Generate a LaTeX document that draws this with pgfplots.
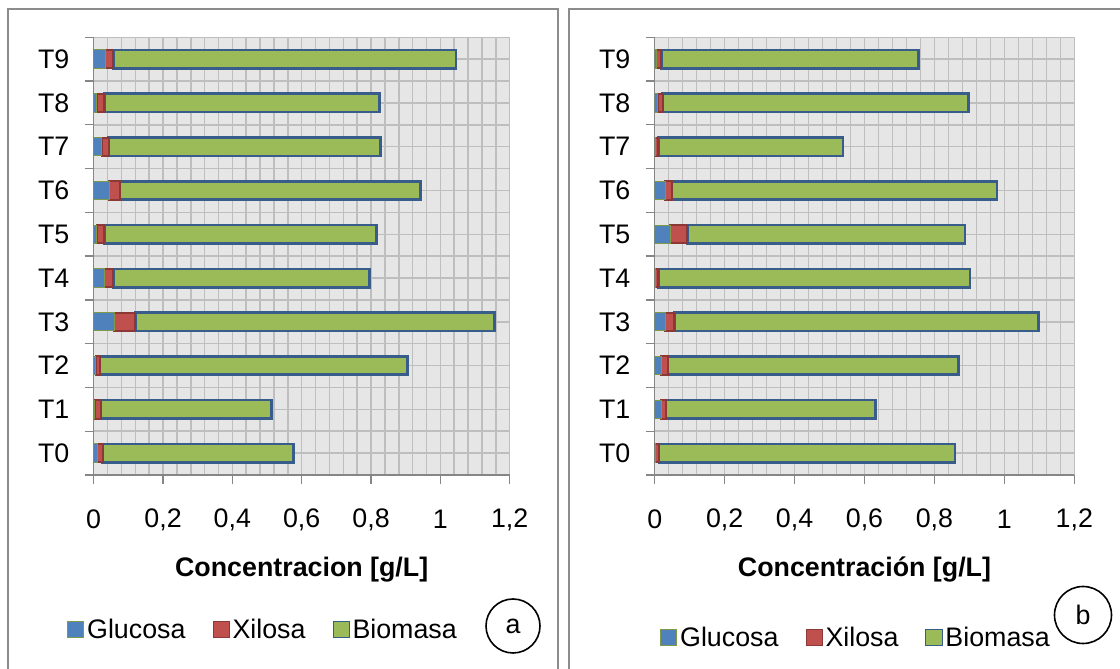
\documentclass[border=0pt]{standalone}
\usepackage{fontspec}
\setmainfont{Liberation Sans}
\usepackage{pgfplots}
\usepackage{pgfplotstable}
\pgfplotsset{compat=1.18}
\definecolor{cBlue}{HTML}{4F81BD}
\definecolor{cRed}{HTML}{C0504D}
\definecolor{cGreen}{HTML}{9BBB59}
\definecolor{cBlueEdge}{HTML}{385D8A}
\definecolor{cRedEdge}{HTML}{8C3836}
\definecolor{cGreenEdge}{HTML}{7E9A48}
\definecolor{gridc}{HTML}{BEBEBE}
\definecolor{bgc}{HTML}{E6E6E6}
\definecolor{axc}{HTML}{868686}
\definecolor{framec}{HTML}{8C8C8C}
\newcommand{\fs}{\fontsize{26.8}{31}\selectfont}

\pgfplotstableread{
cat G X B
0 0.010 0.016 0.550
1 0.003 0.017 0.493
2 0.006 0.012 0.888
3 0.059 0.061 1.037
4 0.030 0.027 0.738
5 0.009 0.022 0.785
6 0.045 0.031 0.866
7 0.023 0.020 0.785
8 0.009 0.022 0.793
9 0.033 0.024 0.988
}\dataA
\pgfplotstableread{
cat G X B
0 0.002 0.010 0.847
1 0.019 0.013 0.599
2 0.019 0.019 0.831
3 0.030 0.026 1.042
4 0.002 0.008 0.892
5 0.044 0.049 0.794
6 0.030 0.019 0.930
7 0.002 0.008 0.528
8 0.008 0.015 0.875
9 0.005 0.014 0.736
}\dataB

\pgfplotsset{
  sq/.style={legend image code/.code={\draw[##1, line width=1pt] (0pt,-8pt) rectangle (16pt,8pt);}},
  panel/.style={
    scale only axis, height=437.7pt,
    xbar stacked, bar width=0.42,
    xmin=0, xmax=1.2, ymin=-0.5, ymax=9.5,
    xtick={0,0.2,0.4,0.6,0.8,1,1.2}, minor x tick num=4,
    ytick={-0.5,0.5,1.5,2.5,3.5,4.5,5.5,6.5,7.5,8.5,9.5}, yticklabels={},
    extra y ticks={0,1,2,3,4,5,6,7,8,9},
    extra y tick labels={T0,T1,T2,T3,T4,T5,T6,T7,T8,T9},
    extra y tick style={major tick length=0pt, grid=major},
    xmajorgrids, xminorgrids, ymajorgrids,
    major grid style={gridc, line width=1.5pt},
    minor grid style={gridc, line width=1.5pt},
    axis background/.style={fill=bgc},
    axis lines*=left, axis line style={axc, line width=1.3pt},
    tick align=outside, major tick length=9pt, minor tick length=0pt,
    tick style={axc, line width=1.3pt},
    xticklabel style={font=\fs, anchor=center, yshift=-35.7pt},
    yticklabel style={font=\fs, anchor=center, xshift=-40pt},
    /pgf/number format/.cd, use comma, assume math mode=true, /pgfplots/.cd,
    xlabel style={font=\fs\bfseries, at={(axis description cs:0.5,-0.2160)}, anchor=center},
    legend style={draw=none, fill=none, font=\fs, legend columns=3,
      inner sep=0pt, nodes={inner xsep=3pt, inner ysep=0pt},
      /tikz/every even column/.append style={column sep=24pt}},
    legend cell align=left,
  },
}

\begin{document}
\begin{tikzpicture}
\useasboundingbox (0,0) rectangle (1120pt,669pt);
\clip (0,0) rectangle (1120pt,669pt);
\draw[framec, line width=2pt] (7.5pt,-20pt) -- (7.5pt,659.5pt) -- (558pt,659.5pt) -- (558pt,-20pt);
\draw[framec, line width=2pt] (569pt,-20pt) -- (569pt,659.5pt) -- (1140pt,659.5pt);

\begin{axis}[panel, width=416pt, at={(93.7pt,194pt)}, anchor=south west,
  xlabel={Concentracion [g/L]},
  legend style={at={(axis description cs:-0.0642,-0.3541)}, anchor=west}]
\addplot[fill=cBlue, draw=cGreenEdge, line width=1pt, sq] table[x=G, y=cat] {\dataA};
\addplot[fill=cRed, draw=cRedEdge, line width=2pt, sq] table[x=X, y=cat] {\dataA};
\addplot[fill=cGreen, draw=cBlueEdge, line width=2.6pt, sq] table[x=B, y=cat] {\dataA};
\legend{Glucosa, Xilosa, Biomasa}
\end{axis}

\begin{axis}[panel, width=419.6pt, at={(654.7pt,194pt)}, anchor=south west,
  xlabel={Concentración [g/L]},
  legend style={at={(axis description cs:0.0126,-0.3713)}, anchor=west}]
\addplot[fill=cBlue, draw=cGreenEdge, line width=1pt, sq] table[x=G, y=cat] {\dataB};
\addplot[fill=cRed, draw=cRedEdge, line width=2pt, sq] table[x=X, y=cat] {\dataB};
\addplot[fill=cGreen, draw=cBlueEdge, line width=2.6pt, sq] table[x=B, y=cat] {\dataB};
\legend{Glucosa, Xilosa, Biomasa}
\end{axis}

\draw[black, line width=1.6pt] (513pt,43pt) circle (27pt);
\node[font=\fs] at (513pt,43pt) {a};
\draw[black, line width=1.6pt] (1083pt,54pt) circle (28.5pt);
\node[font=\fs] at (1083pt,54pt) {b};
\end{tikzpicture}
\end{document}
